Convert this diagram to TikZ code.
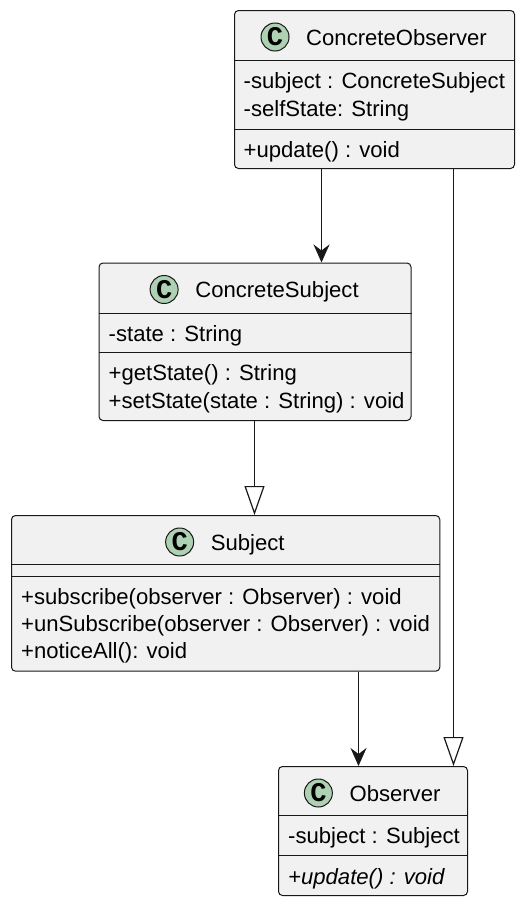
\documentclass[tikz,border=0pt]{standalone}
\usepackage{fontspec}
\setmainfont{Liberation Sans}
\newfontfamily\cfont{Liberation Mono}
\usetikzlibrary{arrows.meta,calc}
\definecolor{boxfill}{HTML}{F1F1F1}
\definecolor{boxline}{HTML}{181818}
\definecolor{circfill}{HTML}{ADD1B2}
\begin{document}
\begin{tikzpicture}[x=1pt,y=-1pt,
  classbox/.style={draw=boxline, fill=boxfill, line width=1pt, rounded corners=4pt, inner sep=0pt, anchor=north west},
  sepline/.style={draw=boxline, line width=1pt},
  mtext/.style={anchor=base west, inner sep=0pt, font=\fontsize{22.1}{26}\selectfont},
  ttext/.style={anchor=base, inner sep=0pt, font=\fontsize{22.1}{26}\selectfont},
  circ/.style={circle, draw=boxline, fill=circfill, line width=1pt, minimum size=28pt, inner sep=0pt, font=\cfont\bfseries\fontsize{27}{27}\selectfont},
  assoc/.style={draw=boxline, line width=1.4pt, -{Stealth[length=18pt,width=16pt,inset=6pt]}},
  gener/.style={draw=boxline, line width=1.4pt, -{Triangle[length=29pt,width=20pt,fill=white,line width=1.2pt]}}
]
\useasboundingbox (0,0) rectangle (522,905);

% ConcreteObserver
\node[classbox, minimum width=280pt, minimum height=158pt] (co) at (234,10) {};
\draw[sepline] ($(co.north west)+(0,50)$) -- ($(co.north east)+(0,50)$);
\draw[sepline] ($(co.north west)+(0,119)$) -- ($(co.north east)+(0,119)$);
\node[ttext] (cot) at (396.5,45) {ConcreteObserver};
\node[circ] (coc) at ([shift={(-31pt,8pt)}]cot.base west) {C};
\node[mtext] (com1) at (243.5,88.5) {-subject : ConcreteSubject};
\node[mtext] (com2) at (243.5,116) {-selfState: String};
\node[mtext] (com3) at (243.5,157.5) {+update() : void};

% ConcreteSubject
\node[classbox, minimum width=312pt, minimum height=157.5pt] (cs) at (98.5,262.5) {};
\draw[sepline] ($(cs.north west)+(0,50.8)$) -- ($(cs.north east)+(0,50.8)$);
\draw[sepline] ($(cs.north west)+(0,89.8)$) -- ($(cs.north east)+(0,89.8)$);
\node[ttext] (cst) at (277,297.5) {ConcreteSubject};
\node[circ] (csc) at ([shift={(-31pt,8pt)}]cst.base west) {C};
\node[mtext] (csm1) at (108.5,341.5) {-state : String};
\node[mtext] (csm2) at (108.5,380.8) {+getState() : String};
\node[mtext] (csm3) at (108.5,408) {+setState(state : String) : void};

% Subject
\node[classbox, minimum width=428.3pt, minimum height=155.7pt] (s) at (11,515) {};
\draw[sepline] ($(s.north west)+(0,49.3)$) -- ($(s.north east)+(0,49.3)$);
\draw[sepline] ($(s.north west)+(0,61)$) -- ($(s.north east)+(0,61)$);
\node[ttext] (st) at (247.7,550) {Subject};
\node[circ] (sc) at ([shift={(-31pt,8pt)}]st.base west) {C};
\node[mtext] (sm1) at (21,604.5) {+subscribe(observer : Observer) : void};
\node[mtext] (sm2) at (21,631.5) {+unSubscribe(observer : Observer) : void};
\node[mtext] (sm3) at (21,658.5) {+noticeAll(): void};

% Observer
\node[classbox, minimum width=189pt, minimum height=129pt] (o) at (278,766) {};
\draw[sepline] ($(o.north west)+(0,49)$) -- ($(o.north east)+(0,49)$);
\draw[sepline] ($(o.north west)+(0,89)$) -- ($(o.north east)+(0,89)$);
\node[ttext] (ot) at (395,801) {Observer};
\node[circ] (oc) at ([shift={(-31pt,8pt)}]ot.base west) {C};
\node[mtext] (om1) at (288,843.5) {-subject : Subject};
\node[mtext] (om2) at (288,884) {\itshape +update() : void};

% connectors
\coordinate (x1) at (321.5,0);
\coordinate (x2) at (453.5,0);
\coordinate (x3) at (254.5,0);
\coordinate (x4) at (358.5,0);
\draw[assoc] (co.south -| x1) -- (cs.north -| x1);
\draw[gener] (co.south -| x2) -- (o.north -| x2);
\draw[gener] (cs.south -| x3) -- (s.north -| x3);
\draw[assoc] (s.south -| x4) -- (o.north -| x4);
\end{tikzpicture}
\end{document}
